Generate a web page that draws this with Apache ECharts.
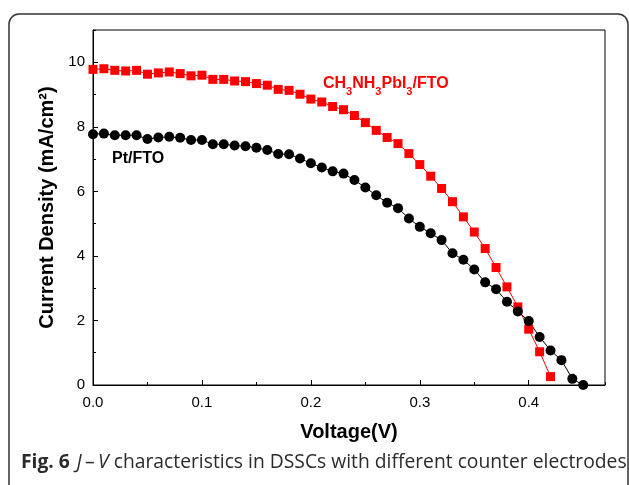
<!DOCTYPE html>
<html>
<head>
<meta charset="utf-8">
<script src="https://cdn.jsdelivr.net/npm/echarts@6/dist/echarts.min.js"></script>
<style>
html,body{margin:0;padding:0;background:#fff;}
#chart{width:629px;height:485px;}
</style>
</head>
<body>
<div id="chart"></div>
<script>
// Voltage (V)
const voltage = [0.00,0.01,0.02,0.03,0.04,0.05,0.06,0.07,0.08,0.09,
  0.10,0.11,0.12,0.13,0.14,0.15,0.16,0.17,0.18,0.19,
  0.20,0.21,0.22,0.23,0.24,0.25,0.26,0.27,0.28,0.29,
  0.30,0.31,0.32,0.33,0.34,0.35,0.36,0.37,0.38,0.39,
  0.40,0.41,0.42,0.43,0.44,0.45];
// Current density (mA/cm2), Pt/FTO
const ptFto = [7.77,7.79,7.74,7.74,7.74,7.62,7.67,7.69,7.66,7.59,
  7.59,7.46,7.46,7.42,7.40,7.35,7.28,7.16,7.15,7.02,
  6.87,6.74,6.62,6.55,6.35,6.12,5.88,5.65,5.48,5.16,
  4.90,4.70,4.49,4.08,3.88,3.58,3.18,2.97,2.58,2.28,
  1.98,1.49,1.07,0.77,0.19,0.00];
// Current density (mA/cm2), CH3NH3PbI3/FTO
const perovskiteFto = [9.78,9.80,9.75,9.73,9.75,9.63,9.67,9.70,9.65,9.58,
  9.60,9.47,9.47,9.42,9.40,9.34,9.29,9.16,9.13,9.01,
  8.86,8.77,8.63,8.53,8.35,8.13,7.89,7.67,7.48,7.17,
  6.83,6.47,6.09,5.68,5.21,4.74,4.23,3.64,3.04,2.42,
  1.73,1.03,0.26];
const xTicks = [0.0,0.1,0.2,0.3,0.4];
const yTicks = [0,2,4,6,8,10];

const pairs = (ys) => ys.map((y, i) => [voltage[i], y]);
const fontA = '"Liberation Sans", Arial, sans-serif';

const chart = echarts.init(document.getElementById('chart'), null, {renderer: 'canvas'});
chart.setOption({
  animation: false,
  backgroundColor: '#fff',
  grid: {left: 93, top: 30, right: 24, bottom: 100, show: true, borderColor: '#000', borderWidth: 1, backgroundColor: 'transparent'},
  xAxis: [{
    type: 'value', min: 0, max: 0.47, interval: 0.1,
    name: 'Voltage(V)', nameLocation: 'middle', nameGap: 37,
    nameTextStyle: {fontFamily: fontA, fontWeight: 'bold', fontSize: 20, color: '#000'},
    axisLine: {show: true, lineStyle: {color: '#000', width: 1}},
    axisTick: {show: true, inside: true, length: 5, lineStyle: {color: '#000'}},
    axisLabel: {fontFamily: fontA, fontSize: 15, color: '#000', margin: 10, showMaxLabel: false,
      formatter: v => xTicks.some(t => Math.abs(t - v) < 1e-9) ? v.toFixed(1) : ''},
    splitLine: {show: false}
  }, {
    type: 'value', min: 0, max: 0.47, interval: 0.05, position: 'bottom',
    axisLine: {show: false},
    axisTick: {show: true, inside: true, length: 3, lineStyle: {color: '#000'}},
    axisLabel: {show: false}, splitLine: {show: false}
  }],
  yAxis: [{
    type: 'value', min: 0, max: 11, interval: 2,
    name: 'Current Density (mA/cm²)', nameLocation: 'middle', nameGap: 35,
    nameTextStyle: {fontFamily: fontA, fontWeight: 'bold', fontSize: 20, color: '#000'},
    axisLine: {show: true, lineStyle: {color: '#000', width: 1}},
    axisTick: {show: true, inside: true, length: 5, lineStyle: {color: '#000'}},
    axisLabel: {fontFamily: fontA, fontSize: 15, color: '#000', margin: 8, showMaxLabel: false,
      formatter: v => yTicks.includes(v) ? String(v) : ''},
    splitLine: {show: false}
  }, {
    type: 'value', min: 0, max: 11, interval: 1, position: 'left',
    axisLine: {show: false},
    axisTick: {show: true, inside: true, length: 3, lineStyle: {color: '#000'}},
    axisLabel: {show: false}, splitLine: {show: false}
  }],
  series: [{
    name: 'CH3NH3PbI3/FTO', type: 'line', xAxisIndex: 0, yAxisIndex: 0,
    data: pairs(perovskiteFto),
    symbol: 'rect', symbolSize: 9,
    itemStyle: {color: '#ff0000'},
    lineStyle: {color: '#ff0000', width: 1}
  }, {
    name: 'Pt/FTO', type: 'line', xAxisIndex: 0, yAxisIndex: 0,
    data: pairs(ptFto),
    symbol: 'circle', symbolSize: 10,
    itemStyle: {color: '#000'},
    lineStyle: {color: '#000', width: 1}
  }],
  graphic: [{
    type: 'rect', shape: {x: 9, y: 14, width: 619, height: 480, r: 10},
    style: {fill: 'none', stroke: '#333', lineWidth: 1.5}, silent: true, z: -1
  }, {
    type: 'text', left: 323, top: 76,
    style: {
      text: '{m|CH}{s|3}{m|NH}{s|3}{m|PbI}{s|3}{m|/FTO}',
      rich: {
        m: {fontFamily: fontA, fontWeight: 'bold', fontSize: 16, fill: '#ff0000', lineHeight: 18, verticalAlign: 'top'},
        s: {fontFamily: fontA, fontWeight: 'bold', fontSize: 11, fill: '#ff0000', lineHeight: 18, verticalAlign: 'top', padding: [10, 0, 0, 0]}
      }
    }
  }, {
    type: 'text', left: 112, top: 151,
    style: {text: 'Pt/FTO', fontFamily: fontA, fontWeight: 'bold', fontSize: 16, fill: '#000'}
  }, {
    type: 'text', left: 21, top: 453,
    style: {
      text: '{b|Fig. 6}  {i|J} {n|–} {i|V}{n| characteristics in DSSCs with different counter electrodes}',
      rich: {
        b: {fontFamily: '"Open Sans", sans-serif', fontWeight: 'bold', fontSize: 19.3, fill: '#2b2b2b'},
        i: {fontFamily: '"Open Sans", sans-serif', fontStyle: 'italic', fontSize: 19.3, fill: '#2b2b2b'},
        n: {fontFamily: '"Open Sans", sans-serif', fontSize: 19.3, fill: '#2b2b2b'}
      }
    }
  }]
});
</script>
</body>
</html>
